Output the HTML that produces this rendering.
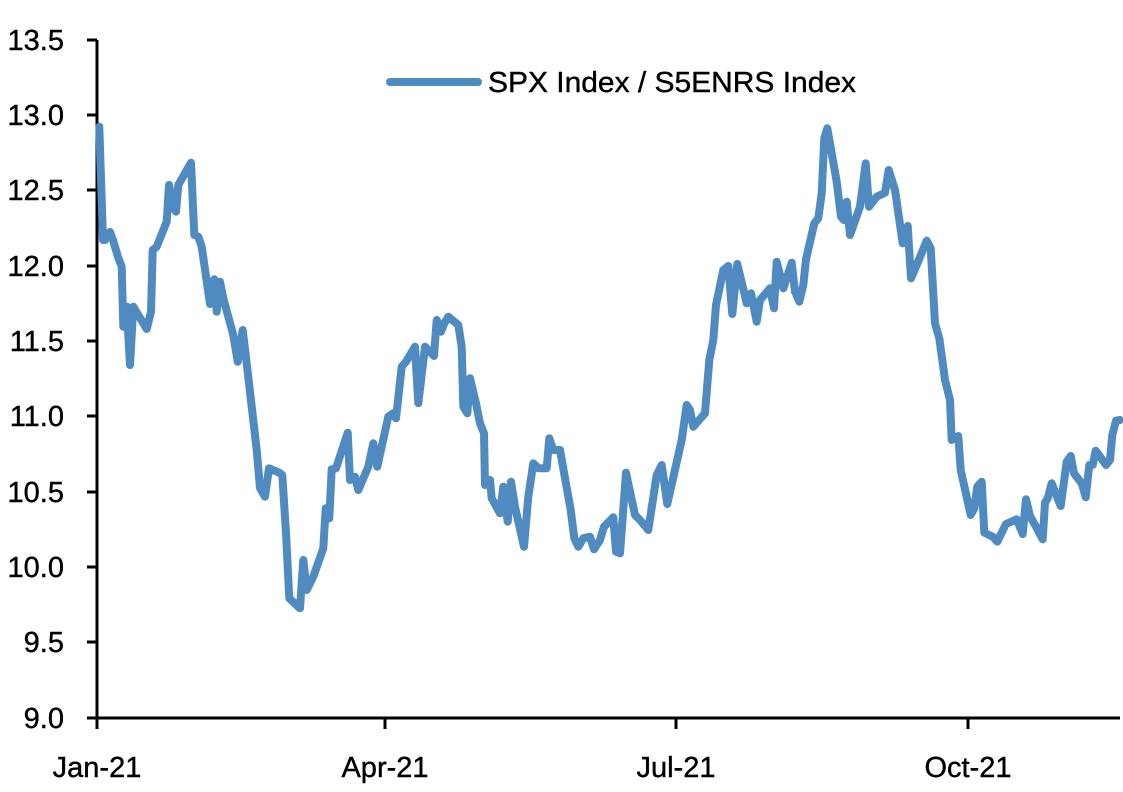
<!DOCTYPE html>
<html><head><meta charset="utf-8"><style>
html,body{margin:0;padding:0;background:#fff;}
svg{display:block;}
text{font-family:"Liberation Sans",Arial,sans-serif;font-size:29px;fill:#000;stroke:#000;stroke-width:0.4px;}
</style></head><body>
<svg width="1123" height="792" viewBox="0 0 1123 792">
<g stroke="#000" stroke-width="3">
<line x1="97" y1="40" x2="97" y2="719"/>
<line x1="96" y1="718" x2="1120" y2="718"/>
<line x1="87" y1="40" x2="97" y2="40"/>
<line x1="87" y1="115" x2="97" y2="115"/>
<line x1="87" y1="190" x2="97" y2="190"/>
<line x1="87" y1="266" x2="97" y2="266"/>
<line x1="87" y1="341" x2="97" y2="341"/>
<line x1="87" y1="416" x2="97" y2="416"/>
<line x1="87" y1="492" x2="97" y2="492"/>
<line x1="87" y1="567" x2="97" y2="567"/>
<line x1="87" y1="642" x2="97" y2="642"/>
<line x1="87" y1="718" x2="97" y2="718"/>
<line x1="97" y1="718" x2="97" y2="729"/>
<line x1="385" y1="718" x2="385" y2="729"/>
<line x1="676" y1="718" x2="676" y2="729"/>
<line x1="968" y1="718" x2="968" y2="729"/>
</g>
<g text-anchor="end">
<text x="64" y="50">13.5</text>
<text x="64" y="125">13.0</text>
<text x="64" y="200">12.5</text>
<text x="64" y="276">12.0</text>
<text x="64" y="351">11.5</text>
<text x="64" y="426">11.0</text>
<text x="64" y="502">10.5</text>
<text x="64" y="577">10.0</text>
<text x="64" y="652">9.5</text>
<text x="64" y="728">9.0</text>
</g>
<g text-anchor="middle">
<text x="97" y="777">Jan-21</text>
<text x="385" y="777">Apr-21</text>
<text x="676" y="777">Jul-21</text>
<text x="968" y="777">Oct-21</text>
</g>
<line x1="390" y1="82" x2="478" y2="82" stroke="#4f8bc0" stroke-width="8" stroke-linecap="round"/>
<text x="488" y="92" textLength="368" lengthAdjust="spacingAndGlyphs">SPX Index / S5ENRS Index</text>
<polyline fill="none" stroke="#4f8bc0" stroke-width="8" stroke-linejoin="round" stroke-linecap="round" points="
99.3,126.7 103,240 105,240 110,232 113,240 118,257 121.7,266.7 123.3,326.7 126.7,306.7 130,365 133.3,306.7 146.7,329 151,311.7 152.7,250 156.7,246.7 166.7,221.7 169,185 172.7,206.7 176,211.7 178.3,185 191,162.7 194.3,235 198.3,236.7 201.7,246.7 210,304 214.3,279.3 216.7,311.7 220,281.7 223.3,298.3 233.3,335 237.7,361.7 242.7,330 246.7,363.3 256.7,450 260,488 265,496.7 269,468.3 279.3,472.7 282.3,475 286,533 289.3,598.3 300,608.3 303.3,560 306.7,590 313.3,576.7 323.3,548.3 325.7,508.3 329.3,518.3 331.7,469.3 336,468.3 347.7,432.7 350,480 355,476.7 358.3,490 368.3,466.7 373.3,443.3 377.3,466.7 388.3,416.7 393.3,413.3 396,418.3 401.7,366.7 406,361.7 415,346.7 418.3,403.3 425,346.7 434,356 436.7,320 441,331.7 444.3,323.3 448.3,316.7 458.3,325 461.7,346.7 463.3,406.7 467.3,413.3 470,378.3 476,403.3 480,423.3 484,433.3 485,485 490,480 491.7,498.3 500,513.3 503.3,486.7 507.7,521.7 511,481.7 515,506.7 524,546.7 528.3,496.7 533.3,463.3 538.3,468.3 546.7,468.3 549.3,438.3 553.3,450 560,450 570.7,510 574.3,538.3 578.3,546.7 583.3,538.3 590,536.7 594,549.3 600,540 604,526.7 613.3,517.3 616,551.7 620,553.3 626,472.7 635,515 640,520 648.3,530 656.7,475 661.7,465 667.3,504 681.7,440 686.7,405 690,410 693.3,426.7 705,413.3 709.3,360 713.3,340 716,305 723.3,270 728.3,266 732.3,314 737.3,264 746.7,303.3 751,293.3 756.7,321.7 760,300 770,288.3 774,308.3 776.7,261.7 783.3,288.3 791.7,262.7 795,291.7 799.3,301.7 803.3,285 806,259.3 814.3,223.3 818.3,218.3 821.7,193.3 824.3,138.3 827.3,128.3 836.7,181.7 841,216.7 844,220 846.7,201.7 850,235 860,206.7 865.7,163.3 869,206.7 876.7,196.7 885,192.7 888.7,170 895,190 902.7,243.3 907.7,226 911,278.3 916.7,265 926.7,240.7 930.7,248.3 935,323.3 939.3,338.3 945,380 950,400 951.7,440 958.3,436 960.7,470 970.7,515 974.3,508.3 977.3,486.7 981.7,481.7 984.3,532.7 992.7,536.7 997.3,541.7 1006,524 1016.7,519.3 1022.7,534 1026,499.3 1030,516 1036,526.7 1042.7,539.3 1045,502.7 1047.7,498.3 1051.7,483.3 1060.7,506 1066.7,461.7 1070.7,456 1074,473.3 1081.7,483.3 1085.7,497.3 1089.3,465 1092.7,465 1095.7,450.7 1106,465 1110,460 1112.3,435 1116,420.7 1120,420"/>
</svg>
</body></html>
